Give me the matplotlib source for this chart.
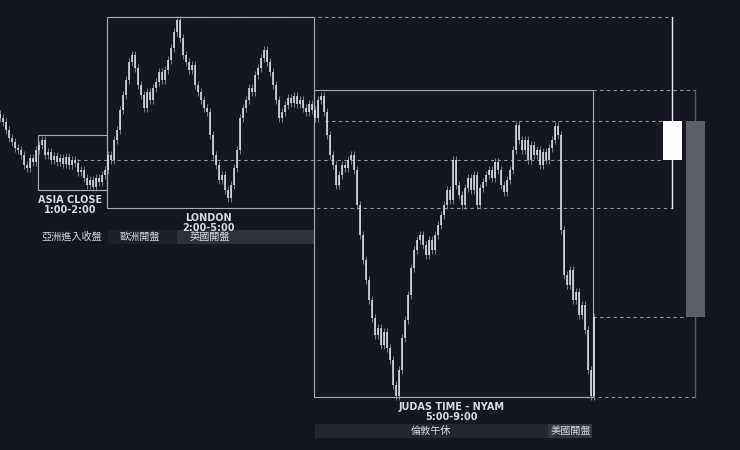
#!/usr/bin/env python3
"""Session map: Asia close / London / Judas time (NYAM) with HTF candles."""

import matplotlib.pyplot as plt
import numpy as np

plt.rcParams["font.family"] = ["Noto Sans CJK TC", "DejaVu Sans"]

BG = "#141722"
BOX = "#a9acb3"
DASH = "#8e929b"
TEXT = "#d6d9e0"

# price path (one value every 3 time units)
STEP = 3
closes = [
    332, 328, 320, 312, 308, 302, 300, 295, 285, 282, 292, 288, 300, 305, 310, 295,
    298, 290, 294, 288, 292, 286, 293, 285, 290, 287, 278, 280, 272, 265, 270, 263,
    272, 268, 275, 280, 295, 290, 310, 320, 340, 355, 370, 388, 395, 382, 365, 355,
    342, 358, 350, 362, 368, 378, 370, 380, 390, 402, 418, 430, 412, 395, 388, 380,
    385, 365, 358, 350, 342, 338, 315, 295, 285, 270, 275, 260, 252, 265, 282, 300,
    332, 342, 350, 362, 358, 375, 382, 392, 400, 388, 378, 365, 350, 332, 338, 345,
    352, 347, 354, 346, 350, 342, 338, 346, 340, 332, 350, 354, 338, 315, 295, 285,
    265, 275, 285, 282, 290, 295, 280, 245, 215, 190, 170, 150, 132, 115, 122, 105,
    118, 102, 90, 65, 54, 80, 112, 130, 155, 182, 200, 210, 215, 205, 195, 210,
    200, 215, 225, 235, 245, 260, 250, 290, 265, 255, 245, 262, 272, 260, 275, 245,
    262, 268, 275, 280, 272, 288, 280, 265, 258, 270, 280, 300, 325, 310, 300, 310,
    290, 305, 295, 300, 285, 298, 290, 302, 310, 324, 315, 220, 175, 165, 180, 150,
    158, 135, 145, 120, 80, 54, 133,
]

# session boxes
session_names = ["ASIA CLOSE\n1:00-2:00", "LONDON\n2:00-5:00", "JUDAS TIME - NYAM\n5:00-9:00"]
session_start = [38, 107, 314]
session_end = [107, 314, 593]
session_high = [315, 433, 360]
session_low = [260, 242, 53]

# higher timeframe candles (London, NY)
htf_t = [672, 695]
htf_open = [290, 329]
htf_close = [329, 133]
htf_high = [433, 360]
htf_low = [242, 53]
htf_color = ["#ffffff", "#5c5f69"]

# level lines carried to the right: (price, start, end)
level_price = [433, 329, 290, 242, 360, 133, 53]
level_start = [178, 325, 77, 230, 593, 593, 398]
level_end = [672, 663, 663, 672, 695, 685, 695]

# event tags
tag_text = ["亞洲進入收盤", "歐洲開盤", "英國開盤", "倫敦午休", "美國開盤"]
tag_start = [38, 108, 177, 315, 548]
tag_end = [107, 177, 314, 548, 592]
tag_text_x = [72, 140, 210, 431, 571]
tag_row = [213.5, 213.5, 213.5, 19, 19]
tag_fill = [None, "#1d2029", "#2f323c", "#242731", "#33363f"]


def main() -> None:
    fig = plt.figure(figsize=(7.4, 4.5), dpi=100, facecolor=BG)
    ax = fig.add_axes([0, 0, 1, 1])
    ax.set_facecolor(BG)
    ax.set_xlim(0, 740)
    ax.set_ylim(0, 450)
    ax.axis("off")

    # level lines
    for p, s, e in zip(level_price, level_start, level_end):
        ax.plot([s, e], [p, p], color=DASH, lw=0.8, ls=(0, (3, 3)), zorder=2)

    # session boxes
    for name, s, e, hi, lo in zip(session_names, session_start, session_end, session_high, session_low):
        ax.add_patch(plt.Rectangle((s, lo), e - s, hi - lo, fill=False, ec=BOX, lw=0.8, zorder=3))
        ax.text((s + e) / 2 - 2, lo - 5, name, ha="center", va="top", color=TEXT,
                fontsize=7, fontweight="bold", linespacing=1.0, family=["DejaVu Sans"], zorder=5)

    # candles
    c = np.array(closes, dtype=float)
    o = np.r_[c[0] + 4, c[:-1]]
    t = np.arange(len(c)) * STEP
    top = np.maximum(o, c)
    bot = np.minimum(o, c)
    ax.vlines(t, bot - 4, top + 4, color="#8d929c", lw=0.6, zorder=4)
    ax.vlines(t, bot, top, color="#e4e6ec", lw=1.1, zorder=4)

    # higher timeframe candles
    for x, op, cl, hi, lo, col in zip(htf_t, htf_open, htf_close, htf_high, htf_low, htf_color):
        ax.plot([x, x], [lo, hi], color=col if col != "#ffffff" else "#e8eaef", lw=1.0, zorder=4)
        ax.add_patch(plt.Rectangle((x - 9.5, min(op, cl)), 19, abs(cl - op), fc=col, ec="none", zorder=5))

    # event tags
    for txt, s, e, tx, row, fill in zip(tag_text, tag_start, tag_end, tag_text_x, tag_row, tag_fill):
        if fill is not None:
            ax.add_patch(plt.Rectangle((s, row - 7), e - s, 14, fc=fill, ec="none", zorder=1))
        ax.text(tx, row, txt, ha="center", va="center", color=TEXT, fontsize=7.3, zorder=5)

    fig.savefig("out.png", dpi=100, facecolor=BG)
    plt.close(fig)


if __name__ == "__main__":
    main()
